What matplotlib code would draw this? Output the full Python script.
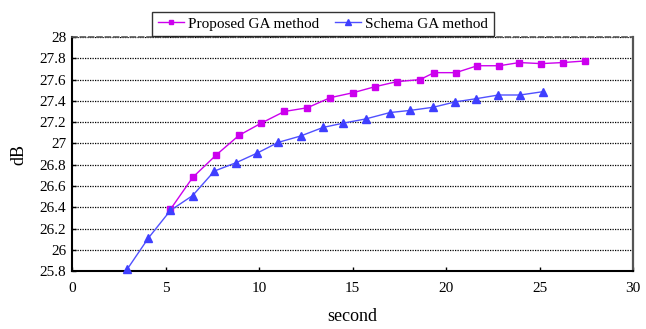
import matplotlib
matplotlib.use("Agg")
import matplotlib.pyplot as plt

proposed_x = [5.26, 6.45, 7.7, 8.93, 10.11, 11.35, 12.58, 13.81, 15.04, 16.2, 17.36, 18.61, 19.36, 20.52, 21.67, 22.85, 23.92, 25.08, 26.26, 27.43]
proposed_y = [26.38, 26.68, 26.89, 27.076, 27.19, 27.30, 27.335, 27.43, 27.477, 27.533, 27.58, 27.60, 27.665, 27.665, 27.73, 27.73, 27.76, 27.75, 27.76, 27.775]

schema_x = [2.96, 4.08, 5.26, 6.45, 7.61, 8.79, 9.91, 11.03, 12.23, 13.42, 14.49, 15.7, 17.0, 18.07, 19.32, 20.48, 21.6, 22.8, 23.96, 25.17]
schema_y = [25.82, 26.11, 26.37, 26.51, 26.74, 26.82, 26.91, 27.01, 27.07, 27.15, 27.19, 27.23, 27.29, 27.31, 27.34, 27.39, 27.42, 27.455, 27.455, 27.486]

x_ticks = [0, 5, 10, 15, 20, 25, 30]
y_ticks = [25.8, 26, 26.2, 26.4, 26.6, 26.8, 27, 27.2, 27.4, 27.6, 27.8, 28]
y_labels = ["25.8", "26", "26.2", "26.4", "26.6", "26.8", "27", "27.2", "27.4", "27.6", "27.8", "28"]

plt.rcParams['font.family'] = ['Liberation Serif', 'DejaVu Serif']

fig = plt.figure(figsize=(6.46, 3.29), dpi=100)
ax = fig.add_axes([0.1115, 0.176, 0.8685, 0.7115])

ax.plot(proposed_x, proposed_y, color='#CC00EE', lw=1.0, marker='s', markersize=5,
        markerfacecolor='#CC00EE', markeredgecolor='#CC00EE', label='Proposed GA method', clip_on=False, zorder=3)
ax.plot(schema_x, schema_y, color='#5050FF', lw=1.0, marker='^', markersize=5.5,
        markerfacecolor='#3F3FFF', markeredgecolor='#3F3FFF', label='Schema GA method', clip_on=False, zorder=3)

ax.set_xlim(0, 30)
ax.set_ylim(25.8, 28)
ax.set_xticks(x_ticks)
ax.set_yticks(y_ticks)
ax.set_yticklabels(y_labels)
ax.tick_params(axis='both', direction='in', labelsize=11, length=3, width=1)
ax.tick_params(axis='x', pad=8)
ax.tick_params(axis='y', pad=4)
ax.yaxis.grid(True, linestyle=(0, (1, 1)), color='black', lw=0.9)
ax.set_axisbelow(True)

ax.spines['top'].set_linestyle((0, (3, 2)))
ax.spines['top'].set_color('#555555')
ax.spines['top'].set_linewidth(1.2)
ax.spines['left'].set_linewidth(1.5)
ax.spines['bottom'].set_linewidth(1.5)
ax.spines['right'].set_linewidth(1.6)
ax.spines['right'].set_color('#555555')

ax.set_xlabel('second', fontsize=13, labelpad=9)
ax.set_ylabel('dB', fontsize=13, labelpad=9)

leg = fig.legend(loc='upper center', bbox_to_anchor=(0.5, 0.988), ncol=2, fontsize=11,
                 frameon=True, fancybox=False, edgecolor='black', handlelength=1.7,
                 columnspacing=1.0, handletextpad=0.3, borderpad=0.35, markerscale=0.7)
leg.get_frame().set_linewidth(1.0)

fig.savefig('out.png', dpi=100)
